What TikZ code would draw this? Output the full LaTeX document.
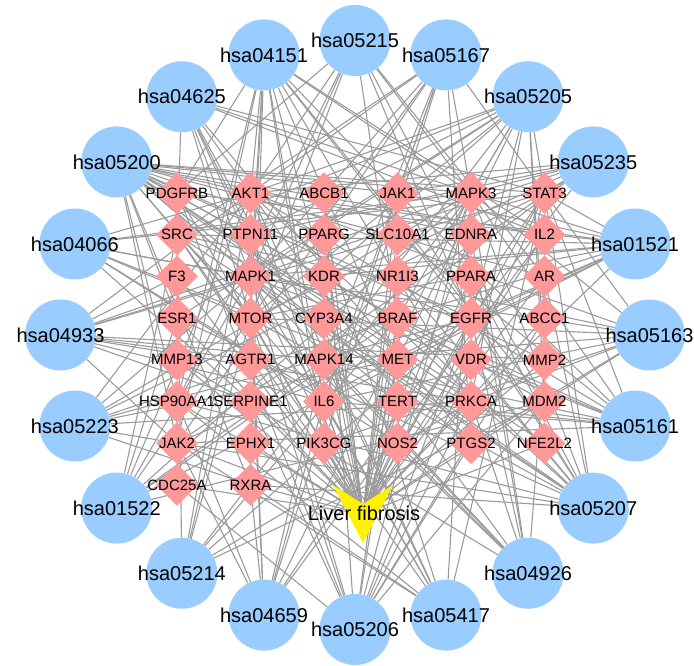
\documentclass[tikz,border=0pt]{standalone}
\usepackage{fontspec}
\setmainfont{Liberation Sans}
\usetikzlibrary{shapes.geometric,backgrounds}

\definecolor{pathblue}{RGB}{153,204,255}
\definecolor{targetpink}{RGB}{255,153,153}
\definecolor{linkgray}{RGB}{155,155,155}

\tikzset{
    pathway/.style={circle,fill=pathblue,minimum size=71pt,inner sep=0pt},
    target/.style={diamond,fill=targetpink,minimum size=42pt,inner sep=0pt},
    link/.style={draw=linkgray,line width=1.1pt},
    pathlabel/.style={font=\fontsize{20}{24}\selectfont,inner sep=0pt},
    targetlabel/.style={font=\fontsize{15}{18}\selectfont,inner sep=0pt}
}

\begin{document}
\begin{tikzpicture}[x=1pt,y=1pt]
        \useasboundingbox (0,0) rectangle (694,666);

        %%%%%%%%% Pathways %%%%%%%%%
        \foreach \p [count=\k from 0] in {05215,05167,05205,05235,01521,05163,05161,05207,04926,05417,05206,04659,05214,01522,05223,04933,04066,05200,04625,04151}
            \node[pathway,label={[pathlabel]center:hsa\p}] (h\p) at ({355+294.5*cos(90-18*\k)},{331+294.5*sin(90-18*\k)}) {};

        %%%%%%%%% Targets %%%%%%%%%
        \foreach \row [count=\r from 0] in {{PDGFRB,AKT1,ABCB1,JAK1,MAPK3,STAT3},{SRC,PTPN11,PPARG,SLC10A1,EDNRA,IL2},{F3,MAPK1,KDR,NR1I3,PPARA,AR},{ESR1,MTOR,CYP3A4,BRAF,EGFR,ABCC1},{MMP13,AGTR1,MAPK14,MET,VDR,MMP2},{HSP90AA1,SERPINE1,IL6,TERT,PRKCA,MDM2},{JAK2,EPHX1,PIK3CG,NOS2,PTGS2,NFE2L2},{CDC25A,RXRA}}
            \foreach \g [count=\c from 0] in \row
                \node[target,label={[targetlabel]center:\g}] (\g) at ({177+73.5*\c},{473-41.7*\r}) {};

        %%%%%%%%% Liver fibrosis %%%%%%%%%
        \coordinate (lf) at (363,152);
        \fill[yellow] (333,181) -- (363,162) -- (393,181) -- (363,123) -- cycle;
        \node[pathlabel] (lftext) at (364,153) {Liver fibrosis};

        %%%%%%%%% Links %%%%%%%%%
        \begin{scope}[on background layer]
            \foreach \p/\gl in {05215/{PDGFRB,AKT1,MAPK3,MAPK1,AR,MTOR,BRAF,EGFR,MDM2,HSP90AA1},
                05167/{AKT1,JAK1,MAPK3,STAT3,SRC,MAPK1,MTOR,MAPK14,IL6,JAK2,PIK3CG,PTGS2},
                05205/{AKT1,MAPK3,STAT3,SRC,PTPN11,MAPK1,KDR,ESR1,MTOR,BRAF,EGFR,MAPK14,MET,MMP2,PRKCA,MDM2},
                05235/{AKT1,JAK1,MAPK3,STAT3,PTPN11,MAPK1,MTOR,EGFR,MAPK14,JAK2},
                01521/{PDGFRB,AKT1,JAK1,MAPK3,STAT3,SRC,MAPK1,KDR,MTOR,BRAF,EGFR,MET,IL6,PRKCA,JAK2},
                05163/{AKT1,MAPK3,STAT3,SRC,MAPK1,MTOR,MAPK14,IL6,PRKCA,PIK3CG,PTGS2,MDM2},
                05161/{AKT1,JAK1,MAPK3,STAT3,SRC,SLC10A1,MAPK1,BRAF,MAPK14,IL6,TERT,PRKCA,JAK2},
                05207/{AKT1,JAK1,MAPK3,STAT3,SRC,MAPK1,NR1I3,PPARA,AR,ESR1,MTOR,CYP3A4,BRAF,EGFR,VDR,HSP90AA1,JAK2,RXRA},
                04926/{AKT1,MAPK3,SRC,EDNRA,MAPK1,EGFR,MMP13,MAPK14,MMP2,PRKCA,NOS2},
                05417/{AKT1,MAPK3,STAT3,SRC,PPARG,MAPK1,MAPK14,IL6,HSP90AA1,JAK2,RXRA},
                05206/{PDGFRB,ABCB1,MAPK3,STAT3,MAPK1,MTOR,BRAF,EGFR,ABCC1,MET,SERPINE1,PRKCA,MDM2,PTGS2,CDC25A},
                04659/{JAK1,MAPK3,STAT3,IL2,MAPK1,MTOR,MAPK14,IL6,HSP90AA1,JAK2,RXRA},
                05214/{PDGFRB,AKT1,MAPK3,MAPK1,MTOR,BRAF,EGFR,MDM2,PRKCA},
                01522/{AKT1,MAPK3,SRC,MAPK1,ESR1,MTOR,BRAF,EGFR,MAPK14,MDM2},
                05223/{AKT1,MAPK3,STAT3,MAPK1,BRAF,EGFR,MET,PRKCA,RXRA,JAK2},
                04933/{AKT1,MAPK3,STAT3,MAPK1,F3,AGTR1,MAPK14,MMP2,SERPINE1,IL6,PRKCA,JAK2},
                04066/{AKT1,MAPK3,STAT3,MAPK1,MTOR,EGFR,SERPINE1,IL6,PRKCA,NOS2},
                05200/{PDGFRB,AKT1,JAK1,MAPK3,STAT3,PPARG,EDNRA,IL2,MAPK1,AR,ESR1,MTOR,BRAF,EGFR,MET,MMP2,HSP90AA1,IL6,TERT,PRKCA,MDM2,JAK2,PTGS2,NFE2L2,RXRA},
                04625/{AKT1,MAPK3,STAT3,SRC,PTPN11,IL2,MAPK1,MTOR,MAPK14,IL6,PTGS2},
                04151/{PDGFRB,AKT1,JAK1,MAPK3,IL2,MAPK1,KDR,MTOR,EGFR,MET,HSP90AA1,IL6,PRKCA,MDM2,JAK2,PIK3CG,RXRA}}
                \foreach \g in \gl
                    \draw[link] (h\p) -- (\g);
            \foreach \g in {PDGFRB,AKT1,ABCB1,JAK1,MAPK3,STAT3,SRC,PTPN11,PPARG,SLC10A1,EDNRA,IL2,F3,MAPK1,KDR,NR1I3,PPARA,AR,ESR1,MTOR,CYP3A4,BRAF,EGFR,ABCC1,MMP13,AGTR1,MAPK14,MET,VDR,MMP2,HSP90AA1,SERPINE1,IL6,TERT,PRKCA,MDM2,JAK2,EPHX1,PIK3CG,NOS2,PTGS2,NFE2L2,CDC25A,RXRA}
                \draw[link] (\g) -- (lf);
        \end{scope}
\end{tikzpicture}
\end{document}
